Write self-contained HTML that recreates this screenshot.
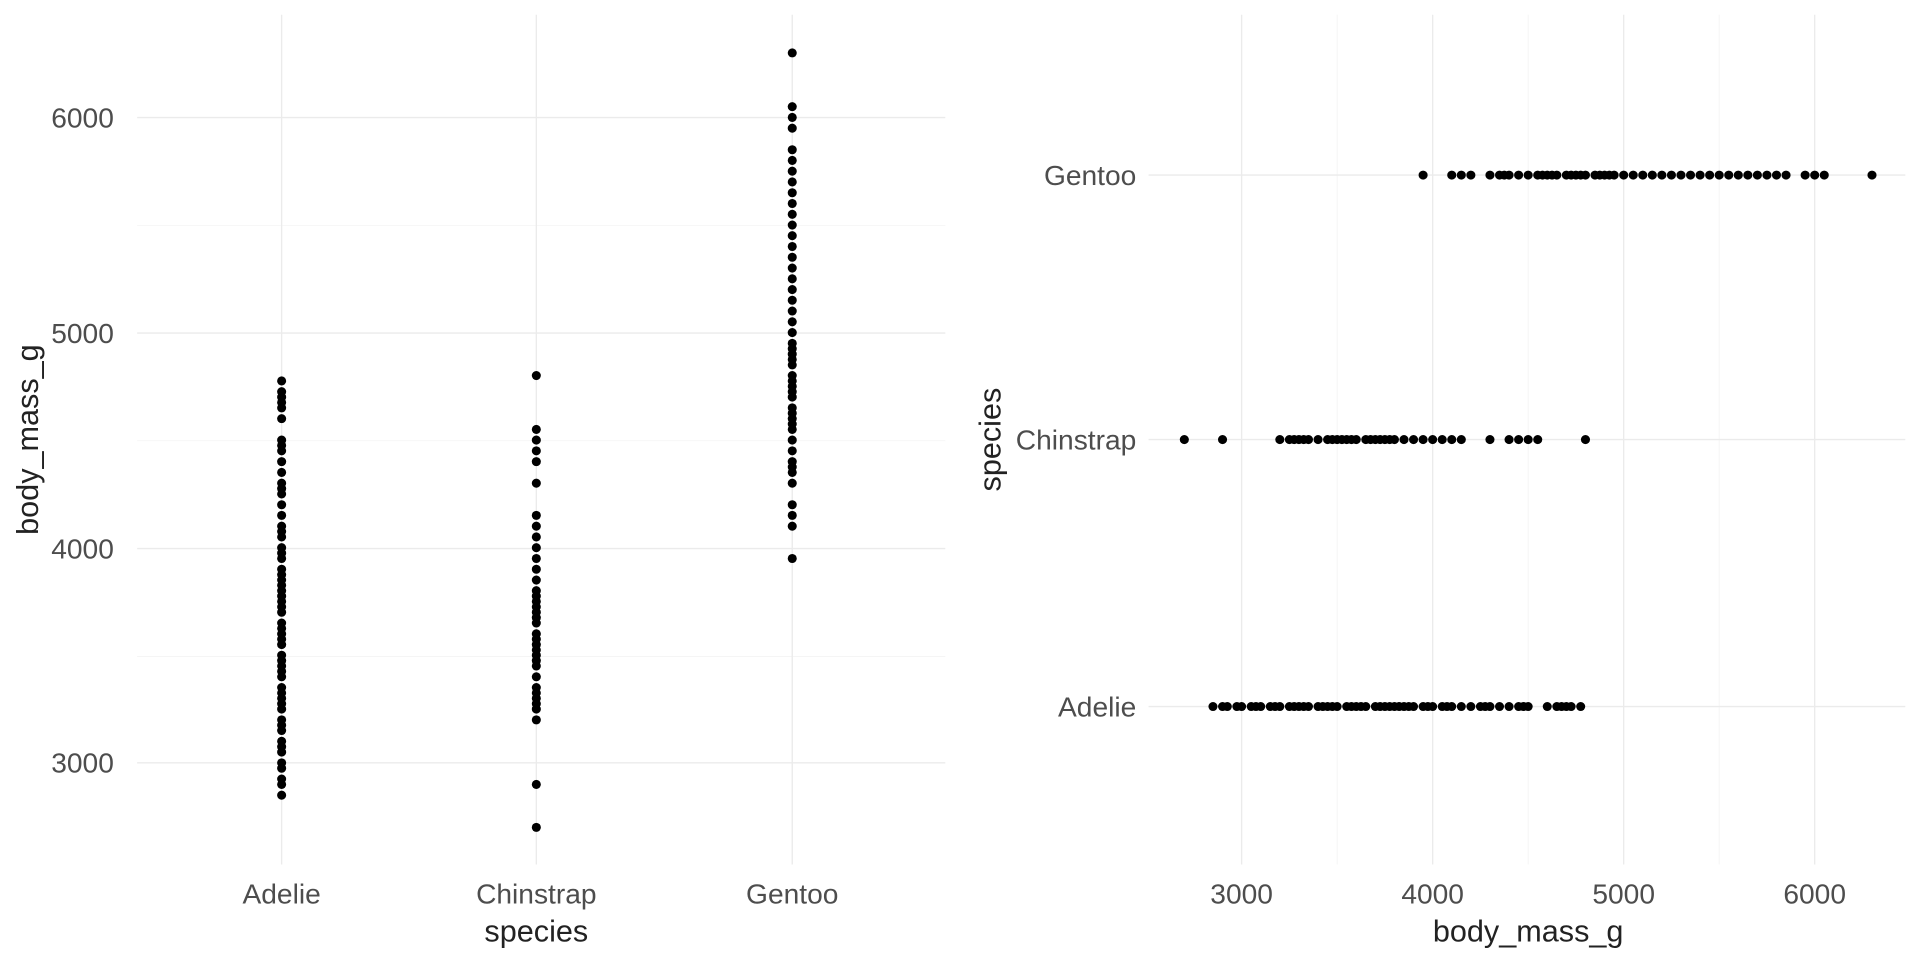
<!DOCTYPE html>
<html><head><meta charset="utf-8"><style>
html,body{margin:0;padding:0;background:#fff;}
svg{display:block;font-family:"Liberation Sans",sans-serif;}
.t{fill:#4d4d4d;font-size:23px;}
.a{fill:#222;font-size:25px;}
.g{stroke:#ebebeb;stroke-width:1.1;}
.m{stroke:#f2f2f2;stroke-width:0.6;}
</style></head><body>
<svg id="s" width="1920" height="960" viewBox="0 0 1568 784">
<g id="grid">
<line class="m" x1="112" x2="772" y1="184" y2="184"/>
<line class="m" x1="112" x2="772" y1="360" y2="360"/>
<line class="m" x1="112" x2="772" y1="536" y2="536"/>
<line class="g" x1="112" x2="772" y1="96" y2="96"/>
<line class="g" x1="112" x2="772" y1="272" y2="272"/>
<line class="g" x1="112" x2="772" y1="448" y2="448"/>
<line class="g" x1="112" x2="772" y1="623" y2="623"/>
<line class="g" x1="230" x2="230" y1="12" y2="706"/>
<line class="g" x1="438" x2="438" y1="12" y2="706"/>
<line class="g" x1="647" x2="647" y1="12" y2="706"/>
<line class="m" x1="1092" x2="1092" y1="12" y2="706"/>
<line class="m" x1="1248" x2="1248" y1="12" y2="706"/>
<line class="m" x1="1404" x2="1404" y1="12" y2="706"/>
<line class="g" x1="1014" x2="1014" y1="12" y2="706"/>
<line class="g" x1="1170" x2="1170" y1="12" y2="706"/>
<line class="g" x1="1326" x2="1326" y1="12" y2="706"/>
<line class="g" x1="1482" x2="1482" y1="12" y2="706"/>
<line class="g" x1="938" x2="1556" y1="143" y2="143"/>
<line class="g" x1="938" x2="1556" y1="359" y2="359"/>
<line class="g" x1="938" x2="1556" y1="577" y2="577"/>
</g>
<g id="pts"></g>
<text class="t" x="93" y="104" text-anchor="end">6000</text>
<text class="t" x="93" y="280" text-anchor="end">5000</text>
<text class="t" x="93" y="456" text-anchor="end">4000</text>
<text class="t" x="93" y="631" text-anchor="end">3000</text>
<text class="t" x="230" y="738" text-anchor="middle">Adelie</text>
<text class="t" x="438" y="738" text-anchor="middle">Chinstrap</text>
<text class="t" x="647" y="738" text-anchor="middle">Gentoo</text>
<text class="a" x="438" y="769" text-anchor="middle">species</text>
<text class="a" transform="translate(31,359) rotate(-90)" text-anchor="middle">body_mass_g</text>
<text class="t" x="928" y="151" text-anchor="end">Gentoo</text>
<text class="t" x="928" y="367" text-anchor="end">Chinstrap</text>
<text class="t" x="928" y="585" text-anchor="end">Adelie</text>
<text class="t" x="1014" y="738" text-anchor="middle">3000</text>
<text class="t" x="1170" y="738" text-anchor="middle">4000</text>
<text class="t" x="1326" y="738" text-anchor="middle">5000</text>
<text class="t" x="1482" y="738" text-anchor="middle">6000</text>
<text class="a" x="1248" y="769" text-anchor="middle">body_mass_g</text>
<text class="a" transform="translate(817,359) rotate(-90)" text-anchor="middle">species</text>
</svg>
<script>
var A=[2850,2900,2925,2975,3000,3050,3075,3100,3150,3175,3200,3250,3275,3300,3325,3350,3400,3425,3450,3475,3500,3550,3575,3600,3625,3650,3700,3725,3750,3775,3800,3825,3850,3875,3900,3950,3975,4000,4050,4075,4100,4150,4200,4250,4275,4300,4350,4400,4450,4475,4500,4600,4650,4675,4700,4725,4775];
var C=[2700,2900,3200,3250,3275,3300,3325,3350,3400,3450,3475,3500,3525,3550,3575,3600,3650,3675,3700,3725,3750,3775,3800,3850,3900,3950,4000,4050,4100,4150,4300,4400,4450,4500,4550,4800];
var G=[3950,4100,4150,4200,4300,4350,4375,4400,4450,4500,4550,4575,4600,4625,4650,4700,4725,4750,4775,4800,4850,4875,4900,4925,4950,5000,5050,5100,5150,5200,5250,5300,5350,5400,5450,5500,5550,5600,5650,5700,5750,5800,5850,5950,6000,6050,6300];
var h='';
function yl(v){return 623-(v-3000)*0.1757;}
function xr(v){return 1014+(v-3000)*0.156;}
[[A,230,577],[C,438,359],[G,647,143]].forEach(function(s){
 s[0].forEach(function(v){
  h+='<circle cx="'+s[1]+'" cy="'+yl(v).toFixed(1)+'" r="3.7"/>';
  h+='<circle cx="'+xr(v).toFixed(1)+'" cy="'+s[2]+'" r="3.7"/>';
 });
});
document.getElementById('pts').innerHTML=h;
</script>
</body></html>
